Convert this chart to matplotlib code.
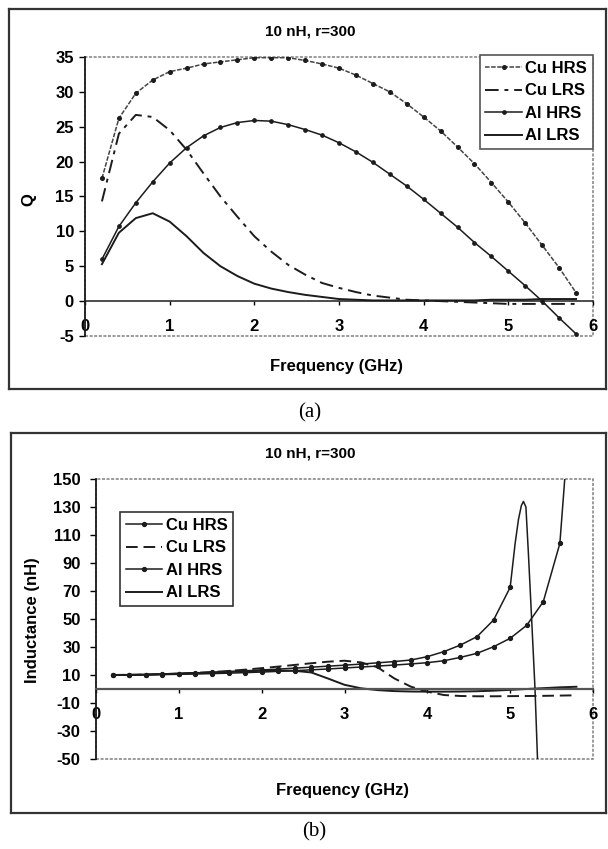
import matplotlib
matplotlib.use('Agg')
import matplotlib.pyplot as plt
from matplotlib.patches import Rectangle
from matplotlib.lines import Line2D

plt.rcParams['font.family'] = ['Liberation Sans', 'DejaVu Sans']
plt.rcParams['axes.unicode_minus'] = False

W, H = 608, 849

# frequency points (GHz)
freq = [0.2, 0.4, 0.6, 0.8, 1.0, 1.2, 1.4, 1.6, 1.8, 2.0,
        2.2, 2.4, 2.6, 2.8, 3.0, 3.2, 3.4, 3.6, 3.8, 4.0,
        4.2, 4.4, 4.6, 4.8, 5.0, 5.2, 5.4, 5.6, 5.8]

# (a) quality factor
q_cu_hrs = [17.6, 26.2, 29.8, 31.7, 32.9, 33.4, 34.0, 34.3, 34.6, 34.9,
            34.9, 34.9, 34.5, 34.0, 33.4, 32.4, 31.2, 30.0, 28.3, 26.4,
            24.4, 22.1, 19.7, 17.0, 14.2, 11.2, 8.0, 4.8, 1.2]
q_cu_lrs = [14.3, 24.0, 26.7, 26.4, 24.5, 21.7, 18.3, 15.0, 12.1, 9.3,
            7.1, 5.2, 3.8, 2.6, 1.9, 1.3, 0.8, 0.5, 0.2, 0.1,
            0.0, -0.1, -0.2, -0.3, -0.4, -0.4, -0.4, -0.4, -0.4]
q_al_hrs = [6.0, 10.7, 14.1, 17.1, 19.8, 22.0, 23.7, 24.9, 25.6, 25.9,
            25.8, 25.3, 24.6, 23.8, 22.7, 21.4, 19.9, 18.2, 16.5, 14.6,
            12.6, 10.6, 8.4, 6.4, 4.3, 2.2, 0.0, -2.4, -4.7]
q_al_lrs = [5.3, 9.8, 11.9, 12.6, 11.4, 9.3, 6.9, 5.0, 3.6, 2.5,
            1.8, 1.3, 0.9, 0.6, 0.3, 0.2, 0.1, 0.1, 0.1, 0.1,
            0.1, 0.1, 0.1, 0.2, 0.2, 0.2, 0.3, 0.3, 0.3]

# (b) inductance (nH)
l_cu_hrs = [10.0, 10.0, 10.1, 10.3, 10.5, 10.7, 11.0, 11.3, 11.7, 12.1,
            12.6, 13.1, 13.7, 14.3, 15.0, 15.7, 16.4, 17.1, 17.9, 18.8,
            20.2, 22.6, 25.5, 30.2, 36.2, 45.5, 62.4, 104.0, 260.0]
freq_al_hrs = freq[:25] + [5.06, 5.1, 5.135, 5.16, 5.19, 5.22, 5.26, 5.3, 5.33]
l_al_hrs = [10.0, 10.1, 10.3, 10.6, 11.0, 11.4, 11.9, 12.4, 13.0, 13.6,
            14.2, 14.9, 15.6, 16.3, 17.0, 17.8, 18.7, 19.6, 20.7, 23.1,
            26.7, 31.4, 37.4, 49.3, 72.6,
            104.0, 121.0, 131.0, 134.0, 130.0, 97.0, 49.0, 0.0, -50.0]
l_cu_lrs = [10.0, 10.1, 10.3, 10.6, 11.0, 11.5, 12.1, 12.9, 13.8, 14.9,
            16.0, 17.2, 18.4, 19.5, 20.2, 19.0, 15.5, 7.6, 1.7, -1.9,
            -4.3, -5.0, -5.2, -5.2, -5.1, -5.0, -4.9, -4.7, -4.5]
l_al_lrs = [10.0, 10.1, 10.3, 10.6, 11.0, 11.4, 11.8, 12.2, 12.6, 13.0,
            13.2, 13.0, 11.8, 7.5, 3.0, 0.5, -0.8, -1.5, -1.8, -1.9,
            -1.9, -1.8, -1.6, -1.2, -0.6, 0.0, 0.6, 1.2, 1.6]

names = ['Cu HRS', 'Cu LRS', 'Al HRS', 'Al LRS']
xticks = [0, 1, 2, 3, 4, 5, 6]
q_ticks = [-5, 0, 5, 10, 15, 20, 25, 30, 35]
l_ticks = [-50, -30, -10, 10, 30, 50, 70, 90, 110, 130, 150]

BOLD = dict(weight='bold', size=12)
INK = '#1c1c1c'


def fx(x):
    return x / W


def fy(y):
    return 1 - y / H


def rect(x0, y0, x1, y1):
    return [fx(x0), fy(y1), fx(x1) - fx(x0), fy(y0) - fy(y1)]


def style_axes(ax, ylim, yticks, ypad, zero_lw, zero_col):
    ax.set_xlim(0, 6)
    ax.set_ylim(*ylim)
    ax.set_xticks(xticks)
    ax.set_yticks(yticks)
    for s in ['top', 'right']:
        ax.spines[s].set_visible(False)
    ax.spines['bottom'].set_position(('data', 0))
    ax.spines['bottom'].set_color(zero_col)
    ax.spines['bottom'].set_linewidth(zero_lw)
    ax.spines['left'].set_color(INK)
    ax.spines['left'].set_linewidth(1.3)
    ax.tick_params(axis='y', direction='out', length=4, width=1, pad=ypad,
                   labelsize=12)
    ax.tick_params(axis='x', direction='out', length=3, width=1, pad=10,
                   labelsize=12)
    for lab in ax.get_xticklabels() + ax.get_yticklabels():
        lab.set_fontweight('bold')
    # excel-like plot area border
    ax.add_patch(Rectangle((0, 0), 1, 1, transform=ax.transAxes, fill=False,
                           ec='#808080', lw=1.1, ls=(0, (2, 1)), zorder=0,
                           clip_on=False))


def frame(fig, x0, y0, x1, y1):
    for (xa, ya, xb, yb) in [(x0, y0, x1, y0), (x0, y1, x1, y1),
                             (x0, y0, x0, y1), (x1, y0, x1, y1)]:
        fig.add_artist(Line2D([fx(xa), fx(xb)], [fy(ya), fy(yb)],
                              color='#333333', lw=1.6))


fig = plt.figure(figsize=(W / 100, H / 100), dpi=100)

# ---------------- (a) Q ----------------
ax1 = fig.add_axes(rect(85, 57, 593, 336))
style_axes(ax1, (-5, 35), q_ticks, 4, 1.1, INK)
ax1.plot(freq, q_cu_hrs, color='#444444', lw=1.1, ls=(0, (3, 1)),
         marker='o', ms=2.6, mfc=INK, mec=INK, label=names[0])
ax1.plot(freq, q_cu_lrs, color=INK, lw=1.4, ls=(0, (7, 3, 2, 3)),
         label=names[1])
ax1.plot(freq, q_al_hrs, color=INK, lw=1.1, marker='o', ms=2.4,
         mfc=INK, mec=INK, label=names[2])
ax1.plot(freq, q_al_lrs, color=INK, lw=1.4, label=names[3])
leg1 = ax1.legend(loc='upper right', bbox_to_anchor=(1.0, 1.007),
                  fancybox=False, edgecolor='#555555', framealpha=1,
                  handlelength=2.2, handletextpad=0.2, labelspacing=0.45,
                  borderpad=0.35, borderaxespad=0, prop=BOLD)
leg1.get_frame().set_linewidth(1.2)

fig.text(fx(310), fy(32), '10 nH, r=300', ha='center', va='center',
         fontsize=11, fontweight='bold')
fig.text(fx(29), fy(200), 'Q', ha='center', va='center', rotation=90,
         fontsize=12, fontweight='bold')
fig.text(fx(337), fy(367), 'Frequency (GHz)', ha='center', va='center',
         fontsize=12, fontweight='bold')
fig.text(fx(310), fy(413), '(a)', ha='center', va='center', fontsize=15,
         family='Liberation Serif')
frame(fig, 9, 9, 606, 389)

# ---------------- (b) inductance ----------------
ax2 = fig.add_axes(rect(96, 479, 593, 759))
style_axes(ax2, (-50, 150), l_ticks, 7, 1.6, '#555555')
ax2.plot(freq, l_cu_hrs, color=INK, lw=1.1, marker='o', ms=2.8,
         mfc=INK, mec=INK, label=names[0])
ax2.plot(freq, l_cu_lrs, color=INK, lw=1.4, ls=(0, (6, 3)),
         label=names[1])
ax2.plot(freq_al_hrs, l_al_hrs, color=INK, lw=1.1, marker='o', ms=2.8,
         mfc=INK, mec=INK, markevery=list(range(25)), label=names[2])
ax2.plot(freq, l_al_lrs, color=INK, lw=1.4, label=names[3])
leg2 = ax2.legend(loc='upper left', bbox_to_anchor=(0.048, 0.882),
                  fancybox=False, edgecolor='#333333', framealpha=1,
                  handlelength=2.2, handletextpad=0.2, labelspacing=0.45,
                  borderpad=0.35, borderaxespad=0, prop=BOLD)
leg2.get_frame().set_linewidth(1.2)

fig.text(fx(310), fy(453), '10 nH, r=300', ha='center', va='center',
         fontsize=11, fontweight='bold')
fig.text(fx(33), fy(620), 'Inductance (nH)', ha='center', va='center',
         rotation=90, fontsize=12, fontweight='bold')
fig.text(fx(343), fy(790), 'Frequency (GHz)', ha='center', va='center',
         fontsize=12, fontweight='bold')
fig.text(fx(314), fy(832), '(b)', ha='center', va='center', fontsize=15,
         family='Liberation Serif')
frame(fig, 11, 433, 606, 813)

fig.savefig('out.png', dpi=100)
